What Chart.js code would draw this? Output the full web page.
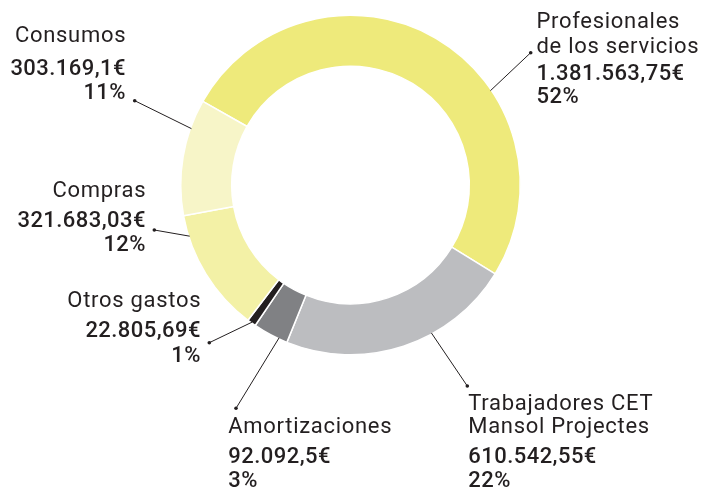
<!DOCTYPE html>
<html>
<head>
<meta charset="utf-8">
<script src="https://cdn.jsdelivr.net/npm/chart.js@4"></script>
<style>
  html, body { margin: 0; padding: 0; background: #ffffff; }
  #wrap { width: 701px; height: 489px; position: relative; }
</style>
</head>
<body>
<div id="wrap"><canvas id="c" width="701" height="489"></canvas></div>
<script>
const categories = ['Profesionales de los servicios', 'Trabajadores CET Mansol Projectes', 'Amortizaciones', 'Otros gastos', 'Compras', 'Consumos'];
const values = [1381563.75, 610542.55, 92092.5, 22805.69, 321683.03, 303169.1];
const nameLines = [['Profesionales', 'de los servicios'], ['Trabajadores CET', 'Mansol Projectes'], ['Amortizaciones'], ['Otros gastos'], ['Compras'], ['Consumos']];
const valueLabels = ['1.381.563,75€', '610.542,55€', '92.092,5€', '22.805,69€', '321.683,03€', '303.169,1€'];
const percentLabels = ['52%', '22%', '3%', '1%', '12%', '11%'];
const colors = ['#EEEA7B', '#BCBDC0', '#808184', '#231F20', '#F3F1A6', '#F7F5C8'];

// label placement (text layout only)
const labelLayout = [
  { align: 'left',  x: 536.5, base: [28.3, 53.3, 80, 103.3], dot: [530.7, 52.7], frac: 0.64 },
  { align: 'left',  x: 468.3, base: [410, 433.3, 463.3, 486.7], dot: [467.3, 386], frac: 0.37 },
  { align: 'left',  x: 228.3, base: [433.3, 463.3, 486.7], dot: [236, 408.3], frac: 0.25 },
  { align: 'right', x: 200.5, base: [306.7, 336.7, 361.7], dot: [209.3, 342.7], frac: 0.5 },
  { align: 'right', x: 145.5, base: [196.7, 226.7, 250.7], dot: [154.3, 230], frac: 0.83 },
  { align: 'right', x: 125.5, base: [42, 75, 99], dot: [134.7, 100.7], frac: 0.75 }
];

const TEXT = '#231F20';
const FONT = 'Roboto';

function drawText(ctx, t, x, y, align, spacing) {
  // manual letter spacing for consistent rendering
  ctx.letterSpacing = spacing + 'px';
  let w = ctx.measureText(t).width;
  ctx.textAlign = 'left';
  let sx = align === 'right' ? x - w + spacing : x;
  ctx.fillText(t, sx, y);
  ctx.letterSpacing = '0px';
}

const labelPlugin = {
  id: 'outLabels',
  afterDraw(chart) {
    const ctx = chart.ctx;
    const meta = chart.getDatasetMeta(0);
    ctx.save();
    meta.data.forEach((arc, i) => {
      const L = labelLayout[i];
      const p = arc.getProps(['x', 'y', 'startAngle', 'endAngle', 'outerRadius'], true);
      const a = p.startAngle + (p.endAngle - p.startAngle) * L.frac;
      const ex = p.x + Math.cos(a) * (p.outerRadius - 1);
      const ey = p.y + Math.sin(a) * (p.outerRadius - 1);
      ctx.strokeStyle = TEXT;
      ctx.lineWidth = 1;
      ctx.beginPath();
      ctx.moveTo(L.dot[0], L.dot[1]);
      ctx.lineTo(ex, ey);
      ctx.stroke();
      ctx.fillStyle = TEXT;
      ctx.beginPath();
      ctx.arc(L.dot[0], L.dot[1], 1.8, 0, Math.PI * 2);
      ctx.fill();

      ctx.textBaseline = 'alphabetic';
      const lines = nameLines[i];
      let k = 0;
      ctx.font = '400 22px ' + FONT;
      lines.forEach(t => { drawText(ctx, t, L.x, L.base[k], L.align, 0.7); k++; });
      ctx.font = '500 22px ' + FONT;
      drawText(ctx, valueLabels[i], L.x, L.base[k], L.align, 0.45); k++;
      drawText(ctx, percentLabels[i], L.x, L.base[k], L.align, 0.45);
    });
    ctx.restore();
  }
};

function build() {
  new Chart(document.getElementById('c'), {
    type: 'doughnut',
    data: {
      labels: categories,
      datasets: [{
        data: values,
        backgroundColor: colors,
        borderColor: '#ffffff',
        borderWidth: 1.5,
        hoverOffset: 0
      }]
    },
    options: {
      responsive: false,
      animation: false,
      rotation: -60.5,
      cutout: '70%',
      layout: { padding: { left: 180, right: 180, top: 14.5, bottom: 133.5 } },
      plugins: { legend: { display: false }, tooltip: { enabled: false } },
      events: []
    },
    plugins: [labelPlugin]
  });
}

Promise.all([
  document.fonts.load('400 22px Roboto'),
  document.fonts.load('500 22px Roboto')
]).then(build, build);
</script>
</body>
</html>
